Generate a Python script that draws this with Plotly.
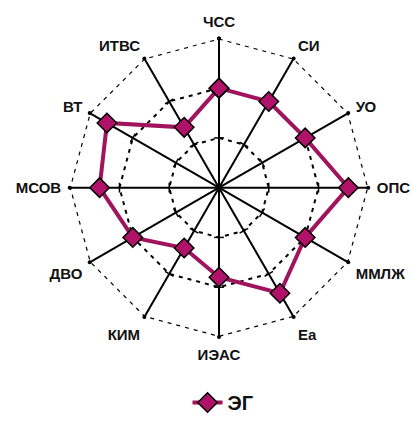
import plotly.graph_objects as go

categories = ["ЧСС", "СИ", "УО", "ОПС", "ММЛЖ", "Еа", "ИЭАС", "КИМ", "ДВО", "МСОВ", "ВТ", "ИТВС"]
values_eg = [2.0, 2.0, 2.0, 2.6, 2.0, 2.45, 1.8, 1.4, 2.0, 2.4, 2.6, 1.4]
series_name = "ЭГ"
radial_ticks = [1, 2]
radial_max = 3

n = len(categories)
fig = go.Figure()

# outer dashed ring with small dots at axis ends
fig.add_trace(go.Scatterpolar(
    r=[radial_max] * (n + 1),
    theta=categories + categories[:1],
    mode="lines+markers",
    line=dict(color="#000", width=2.4, dash="4px,5px"),
    marker=dict(size=4, color="#000"),
    cliponaxis=False,
    showlegend=False, hoverinfo="skip",
))

# small tick marks across each axis
tick_r, tick_t, tick_a = [], [], []
for i, c in enumerate(categories):
    for rv in radial_ticks:
        tick_r.append(rv)
        tick_t.append(c)
        tick_a.append(i * 360 / n)
fig.add_trace(go.Scatterpolar(
    r=tick_r, theta=tick_t, mode="markers",
    marker=dict(symbol="line-ew", size=7, angle=tick_a,
                line=dict(color="#000", width=1.5)),
    showlegend=False, hoverinfo="skip",
))

fig.add_trace(go.Scatterpolar(
    r=values_eg + values_eg[:1],
    theta=categories + categories[:1],
    mode="lines+markers",
    name=series_name,
    line=dict(color="#a0145e", width=4),
    marker=dict(symbol="diamond", size=15, color="#b0126a",
                line=dict(color="#000000", width=1.5)),
))

fig.update_layout(
    width=413, height=422,
    margin=dict(l=0, r=0, t=0, b=0),
    paper_bgcolor="white",
    font=dict(family="Liberation Sans, Arial, sans-serif", size=15, color="#000"),
    polar=dict(
        domain=dict(x=[0.1525, 0.908], y=[0.166, 0.905]),
        bgcolor="white",
        gridshape="linear",
        radialaxis=dict(
            range=[0, radial_max], tickvals=radial_ticks, showticklabels=False,
            showline=False, ticks="",
            gridcolor="#000", griddash="4px,5px", gridwidth=2,
        ),
        angularaxis=dict(
            direction="clockwise", rotation=90,
            showline=False, gridcolor="#000", gridwidth=1.5,
            ticks="outside", ticklen=5, tickcolor="rgba(0,0,0,0)",
            tickfont=dict(size=15, color="#111", weight="bold"),
        ),
    ),
    showlegend=True,
    legend=dict(orientation="h", x=0.54, xanchor="center", y=-0.045, yanchor="bottom",
                font=dict(size=20, color="#111", weight="bold")),
)

fig.write_html("out.html", config={"displayModeBar": False},
               post_script="document.body.style.margin='0';")
